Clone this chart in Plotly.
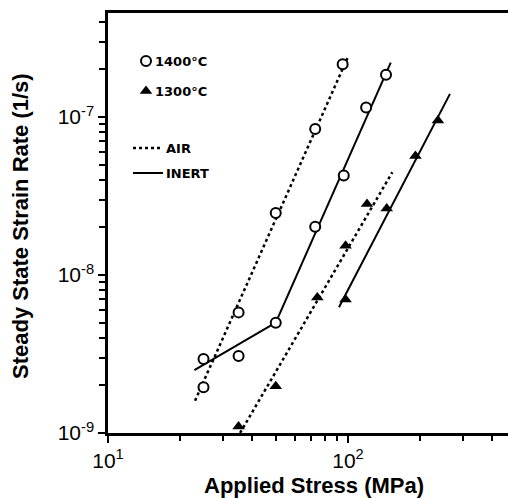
import plotly.graph_objects as go

# ---- data ----
x_1400_air = [25, 35, 50, 73, 95]
y_1400_air = [1.95e-9, 5.8e-9, 2.47e-8, 8.4e-8, 2.16e-7]
x_1400_inert = [25, 35, 50, 73, 96, 119, 144]
y_1400_inert = [2.94e-9, 3.07e-9, 4.99e-9, 2.02e-8, 4.26e-8, 1.15e-7, 1.85e-7]
x_1300_air = [35, 50, 74.5, 97.7, 120]
y_1300_air = [1.1e-9, 1.98e-9, 7.2e-9, 1.53e-8, 2.81e-8]
x_1300_inert = [97.7, 145, 191, 237]
y_1300_inert = [7.0e-9, 2.64e-8, 5.66e-8, 9.5e-8]

# fitted lines (end points)
fit_1400_air_x = [23.05, 100]
fit_1400_air_y = [1.6e-9, 2.4e-7]
fit_1400_inert_lo_x = [22.9, 50]
fit_1400_inert_lo_y = [2.5e-9, 4.99e-9]
fit_1400_inert_hi_x = [50, 150.7]
fit_1400_inert_hi_y = [4.99e-9, 2.21e-7]
fit_1300_air_x = [35.5, 153]
fit_1300_air_y = [1.0e-9, 4.47e-8]
fit_1300_inert_x = [91.7, 266]
fit_1300_inert_y = [6.25e-9, 1.4e-7]

x_major = [10, 100]
x_major_text = ["10<sup>1</sup>", "10<sup>2</sup>"]
y_major = [1e-9, 1e-8, 1e-7]
y_major_text = ["10<sup>-9</sup>", "10<sup>-8</sup>", "10<sup>-7</sup>"]

legend_labels = ["1400°C", "1300°C", "AIR", "INERT"]

FONT = "Liberation Sans"
LEGFONT = "DejaVu Sans"
W, H = 508, 498
L, R, T, B = 108, 0, 13, 65
PW, PH = W - L - R, H - T - B

x_minor = [m * 10 ** e for e in (1, 2) for m in range(2, 10)]
y_minor = [m * 10.0 ** e for e in (-9, -8, -7) for m in range(2, 10)]

fig = go.Figure()

def line(x, y, dash):
    fig.add_trace(go.Scatter(x=x, y=y, mode="lines",
                             line=dict(color="black", width=2.5 if dash else 2,
                                       dash="dot" if dash else "solid"),
                             showlegend=False, hoverinfo="skip"))

line(fit_1400_air_x, fit_1400_air_y, True)
line(fit_1400_inert_lo_x, fit_1400_inert_lo_y, False)
line(fit_1400_inert_hi_x, fit_1400_inert_hi_y, False)
line(fit_1300_air_x, fit_1300_air_y, True)
line(fit_1300_inert_x, fit_1300_inert_y, False)

circ = dict(symbol="circle", size=10, color="white", line=dict(color="black", width=2))
tri = dict(symbol="triangle-up", size=11, color="black", line=dict(color="black", width=0))

for xs, ys, mk in [(x_1400_air, y_1400_air, circ), (x_1400_inert, y_1400_inert, circ),
                   (x_1300_air, y_1300_air, tri), (x_1300_inert, y_1300_inert, tri)]:
    fig.add_trace(go.Scatter(x=xs, y=ys, mode="markers", marker=mk,
                             showlegend=False, cliponaxis=False, hoverinfo="skip"))

# ---- legend drawn in pixel space on overlay axes ----
def pyv(py):
    return H - py

def px2paper(px):
    return (px - L) / PW

def py2paper(py):
    return (H - B - py) / PH

fig.add_trace(go.Scatter(x=[146], y=[pyv(61)], mode="markers", marker=circ,
                         xaxis="x2", yaxis="y2", showlegend=False, cliponaxis=False))
fig.add_trace(go.Scatter(x=[146], y=[pyv(91)], mode="markers", marker=tri,
                         xaxis="x2", yaxis="y2", showlegend=False, cliponaxis=False))
fig.add_trace(go.Scatter(x=[133, 163], y=[pyv(148)] * 2, mode="lines",
                         line=dict(color="black", width=2.5, dash="dot"),
                         xaxis="x2", yaxis="y2", showlegend=False))
fig.add_trace(go.Scatter(x=[133, 163], y=[pyv(173)] * 2, mode="lines",
                         line=dict(color="black", width=2),
                         xaxis="x2", yaxis="y2", showlegend=False))

ann = []
for lab, px, py in zip(legend_labels, [153, 153, 164, 164], [61, 91, 148, 173]):
    ann.append(dict(text="<b>" + lab + "</b>", x=px2paper(px), y=py2paper(py),
                    xref="paper", yref="paper",
                    xanchor="left", yanchor="middle", showarrow=False,
                    font=dict(family=LEGFONT, size=13, color="black")))

# axis titles
ann.append(dict(text="<b>Applied Stress (MPa)</b>", x=px2paper(314), y=py2paper(485),
                xref="paper", yref="paper",
                xanchor="center", yanchor="middle", showarrow=False,
                font=dict(family=FONT, size=22, color="black")))
ann.append(dict(text="<b>Steady State Strain Rate (1/s)</b>", x=px2paper(20), y=py2paper(226),
                xref="paper", yref="paper",
                xanchor="center", yanchor="middle", showarrow=False, textangle=-90,
                font=dict(family=FONT, size=22, color="black")))

axis_common = dict(showgrid=False, zeroline=False, showline=True, linecolor="black",
                   linewidth=2.5, ticks="outside", ticklen=7, tickwidth=2, tickcolor="black",
                   tickfont=dict(family=FONT, size=21, color="black"))

fig.update_layout(
    width=W, height=H,
    margin=dict(l=L, r=R, t=T, b=B),
    paper_bgcolor="white", plot_bgcolor="white",
    showlegend=False,
    xaxis=dict(type="log", range=[1, 1 + PW / 240], tickmode="array",
               tickvals=x_major, ticktext=x_major_text, mirror=True,
               minor=dict(tickmode="array", tickvals=x_minor, ticks="outside",
                          ticklen=5, tickwidth=2, tickcolor="black"),
               **axis_common),
    yaxis=dict(type="log", range=[-9, -9 + PH / 158], tickmode="array",
               tickvals=y_major, ticktext=y_major_text,
               minor=dict(tickmode="array", tickvals=y_minor, ticks="outside",
                          ticklen=6, tickwidth=2, tickcolor="black"),
               **axis_common),
    xaxis2=dict(overlaying="x", range=[L, W], visible=False, fixedrange=True),
    yaxis2=dict(overlaying="y", range=[B, H - T], visible=False, fixedrange=True),
    annotations=ann,
)

fig.write_html("out.html")
